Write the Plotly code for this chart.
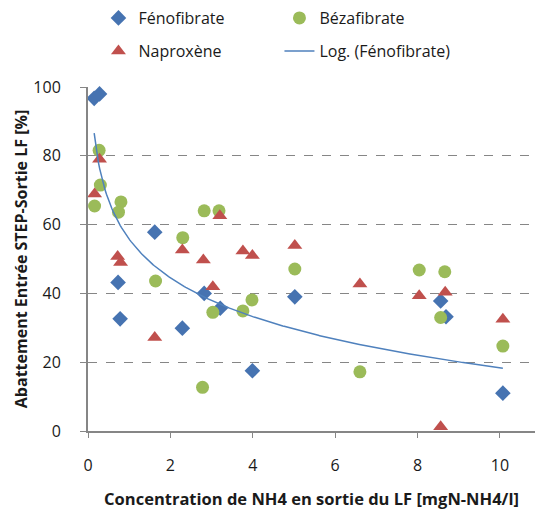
import numpy as np
import plotly.graph_objects as go

# Fénofibrate
feno_x = [0.15, 0.28, 0.73, 0.78, 1.62, 2.29, 2.82, 3.21, 3.99, 5.02, 8.56, 8.69, 10.07]
feno_y = [96.7, 98.0, 43.2, 32.6, 57.8, 29.9, 40.0, 35.7, 17.5, 39.0, 37.8, 33.2, 11.0]

# Bézafibrate
beza_x = [0.27, 0.30, 0.16, 0.80, 0.74, 2.82, 3.18, 2.30, 5.02, 1.64, 3.03, 3.76, 3.98, 2.78, 8.04, 8.66, 8.56, 6.60, 10.07]
beza_y = [81.6, 71.5, 65.4, 66.6, 63.6, 64.0, 64.0, 56.2, 47.1, 43.6, 34.5, 34.9, 38.1, 12.7, 46.8, 46.3, 33.0, 17.2, 24.7]

# Naproxène
napro_x = [0.28, 0.16, 3.20, 0.72, 0.79, 2.29, 2.80, 3.76, 3.99, 5.02, 1.62, 3.03, 6.60, 8.04, 8.67, 8.56, 10.07]
napro_y = [79.0, 68.9, 62.6, 50.7, 49.0, 52.6, 49.7, 52.3, 51.0, 53.9, 27.2, 41.9, 42.7, 39.3, 40.3, 1.2, 32.5]

x_ticks = [0, 2, 4, 6, 8, 10]
y_ticks = [0, 20, 40, 60, 80, 100]

# Logarithmic trendline fitted on Fénofibrate (like the spreadsheet trendline)
fx = np.array(feno_x)
fy = np.array(feno_y)
a, b = np.polyfit(np.log(fx), fy, 1)
tx = np.linspace(fx.min(), fx.max(), 300)
ty = a * np.log(tx) + b

FONT = "Open Sans"
BLUE = "#4673B1"
GREEN = "#9BBB59"
RED = "#C0504D"
LINE = "#4F81BD"
GRAY = "#868686"

fig = go.Figure()
fig.add_trace(go.Scatter(x=feno_x, y=feno_y, mode="markers", name="Fénofibrate",
                         marker=dict(symbol="diamond", size=12, color=BLUE),
                         cliponaxis=False, legend="legend"))
fig.add_trace(go.Scatter(x=beza_x, y=beza_y, mode="markers", name="Bézafibrate",
                         marker=dict(symbol="circle", size=13, color=GREEN),
                         cliponaxis=False, legend="legend"))
fig.add_trace(go.Scatter(x=napro_x, y=napro_y, mode="markers", name="Naproxène",
                         marker=dict(symbol="triangle-up", size=13, color=RED),
                         cliponaxis=False, legend="legend2"))
fig.add_trace(go.Scatter(x=tx, y=ty, mode="lines", name="Log. (Fénofibrate)",
                         line=dict(color=LINE, width=1.5),
                         legend="legend2"))

fig.update_layout(
    width=537, height=510,
    margin=dict(l=88, r=2, t=87, b=79, autoexpand=False),
    plot_bgcolor="white", paper_bgcolor="white",
    font=dict(family=FONT, size=15, color="#1a1a1a"),
    xaxis=dict(range=[0, 10.85], tickvals=x_ticks, ticktext=[str(v) for v in x_ticks],
               showgrid=False, zeroline=False, showline=True, linecolor=GRAY, linewidth=2,
               ticks="outside", ticklen=5, tickcolor=GRAY, tickwidth=1,
               tickfont=dict(size=16), ticklabelstandoff=14, automargin=False,
               title=dict(text="<b>Concentration de NH4 en sortie du LF [mgN-NH4/l]</b>",
                          font=dict(size=16.5), standoff=24)),
    yaxis=dict(range=[0, 100], tickvals=y_ticks, ticktext=[str(v) for v in y_ticks],
               showgrid=True, gridcolor=GRAY, griddash="dash", gridwidth=1,
               zeroline=False, showline=True, linecolor=GRAY, linewidth=2,
               ticks="outside", ticklen=6, tickcolor=GRAY, tickwidth=1,
               tickfont=dict(size=16), ticklabelstandoff=16, automargin=False,
               title=dict(text="<b>Abattement Entrée STEP-Sortie LF [%]</b>",
                          font=dict(size=16), standoff=2)),
    legend=dict(orientation="h", x=0.0234, y=0.998, xref="paper", yref="container",
                xanchor="left", yanchor="top", entrywidth=136, font=dict(size=16),
                bgcolor="rgba(0,0,0,0)"),
    legend2=dict(orientation="h", x=0.0234, y=0.933, xref="paper", yref="container",
                 xanchor="left", yanchor="top", entrywidth=136, font=dict(size=16),
                 bgcolor="rgba(0,0,0,0)"),
)

fig.write_html("out.html", config={"displayModeBar": False},
               post_script="document.body.style.margin='0';")
